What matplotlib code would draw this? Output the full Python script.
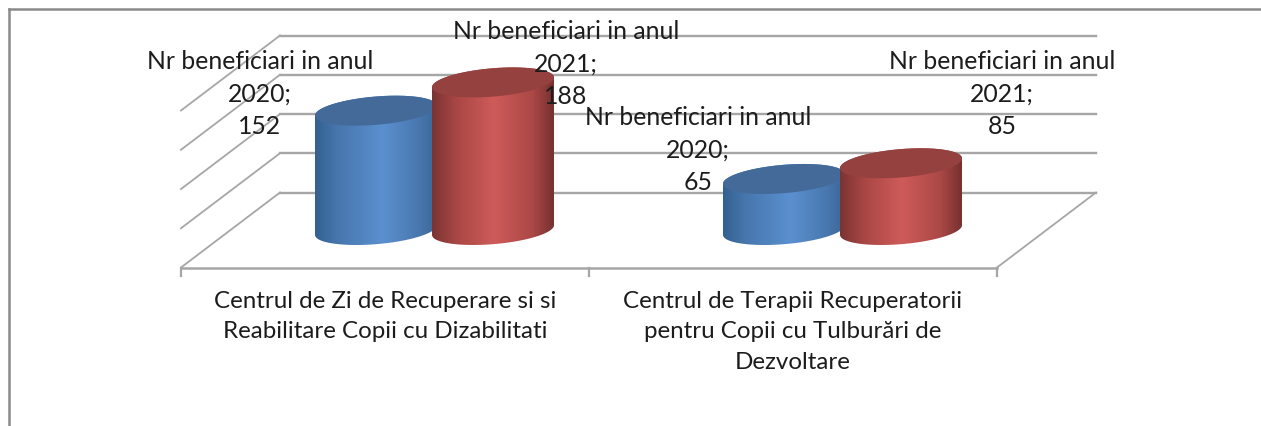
import numpy as np
import matplotlib
matplotlib.use("Agg")
import matplotlib.pyplot as plt
from matplotlib.colors import LinearSegmentedColormap
from matplotlib.lines import Line2D
from matplotlib.patches import Polygon

categories = [
    "Centrul de Zi de Recuperare si si\nReabilitare Copii cu Dizabilitati",
    "Centrul de Terapii Recuperatorii\npentru Copii cu Tulburări de\nDezvoltare",
]
series_names = ["Nr beneficiari in anul\n2020", "Nr beneficiari in anul\n2021"]
values_2020 = [152, 65]
values_2021 = [188, 85]
grid_values = [0, 50, 100, 150, 200]

W, H = 1261, 427
CAT_PX = 408.0   # pixels per category
VAL_PX = 0.785   # pixels per value unit
X0_PX, Y0_PX = 181, 268.5   # front left corner of the floor

# depth of the floor, in data units
DX = 99 / CAT_PX
DY = 75 / VAL_PX

GRID = "#a6a6a6"
TEXT = "#1c1c1c"
FONT_SIZE = 17.8
CAT_FONT_SIZE = 17.4
plt.rcParams["font.family"] = ["Lato", "DejaVu Sans"]

blue_cmap = LinearSegmentedColormap.from_list(
    "b", [(0, "#33608f"), (0.18, "#4676ad"), (0.55, "#5b90cf"), (0.85, "#4877ae"), (1, "#3a6596")])
red_cmap = LinearSegmentedColormap.from_list(
    "r", [(0, "#7a3432"), (0.2, "#a94745"), (0.5, "#ce5b59"), (0.82, "#ab4846"), (1, "#73302f")])

fig = plt.figure(figsize=(W / 100, H / 100), dpi=100)
ax = fig.add_axes([0, 0, 1, 1])


def px(x, y):
    return x / W, 1 - y / H


def cylinder(cx, value, cmap, top_color, z):
    a = 57.7 / CAT_PX
    b = 0.2
    base = DY / 2
    tr = np.arctan2(b * DX * CAT_PX, a * CAT_PX)
    lower = np.linspace(tr + np.pi, tr + 2 * np.pi, 60)
    upper = np.linspace(tr, tr + np.pi, 60)

    def ell(t, y0):
        return cx + a * np.cos(t) + b * DX * np.sin(t), y0 + b * DY * np.sin(t)

    xl, yl = ell(lower, base)
    xu, yu = ell(upper, base + value)
    body = Polygon(np.column_stack([np.r_[xl, xu], np.r_[yl, yu]]), closed=True,
                   transform=ax.transData, fc="none", ec="none")
    ax.add_patch(body)
    grad = np.linspace(0, 1, 256).reshape(1, -1)
    im = ax.imshow(grad, cmap=cmap, aspect="auto", zorder=z,
                   extent=[xl.min(), xl.max(), base - DY, base + value + DY])
    im.set_clip_path(body)
    t = np.linspace(0, 2 * np.pi, 120)
    xt, yt = ell(t, base + value)
    ax.fill(xt, yt, color=top_color, lw=0, zorder=z + 0.1)


# back wall, left wall and floor
for v in grid_values:
    ax.plot([DX, 2 + DX], [DY + v, DY + v], color=GRID, lw=1.7, zorder=1)
    ax.plot([0, DX], [v, DY + v], color=GRID, lw=1.3, zorder=1)
ax.plot([0, 2], [0, 0], color=GRID, lw=1.8, zorder=1)
ax.plot([2, 2 + DX], [0, DY], color=GRID, lw=1.3, zorder=1)
for i in range(3):
    ax.plot([i, i], [0, -8 / VAL_PX], color=GRID, lw=1.6, zorder=1)

# cylinders
offset = 58.5 / CAT_PX
for i in range(len(categories)):
    cx = i + 0.5 + DX / 2
    cylinder(cx - offset, values_2020[i], blue_cmap, "#446a9a", 3)
    cylinder(cx + offset, values_2021[i], red_cmap, "#944140", 4)

# data labels
label_pos = [[(260, 94), (566, 64)], [(698, 150), (1002, 94)]]
for i in range(len(categories)):
    for j, vals in enumerate([values_2020, values_2021]):
        x, y = px(*label_pos[i][j])
        fig.text(x, y, f"{series_names[j]};\n{vals[i]}", ha="center", va="center",
                 fontsize=FONT_SIZE, color=TEXT, linespacing=1.5, zorder=6)

# category labels
for i, lab in enumerate(categories):
    x, y = px(X0_PX + CAT_PX * (i + 0.5), 291)
    fig.text(x, y, lab, ha="center", va="top", fontsize=CAT_FONT_SIZE, color=TEXT, linespacing=1.55)

# chart border
fig.add_artist(Line2D([9 / W, 9 / W], [0, 1 - 10 / H], color="#8a8a8a", lw=1.8))
fig.add_artist(Line2D([9 / W, 1], [1 - 10 / H, 1 - 10 / H], color="#8a8a8a", lw=1.8))

ax.set_xlim(-X0_PX / CAT_PX, (W - X0_PX) / CAT_PX)
ax.set_ylim(-(H - Y0_PX) / VAL_PX, Y0_PX / VAL_PX)
ax.axis("off")

fig.savefig("out.png", dpi=100)
